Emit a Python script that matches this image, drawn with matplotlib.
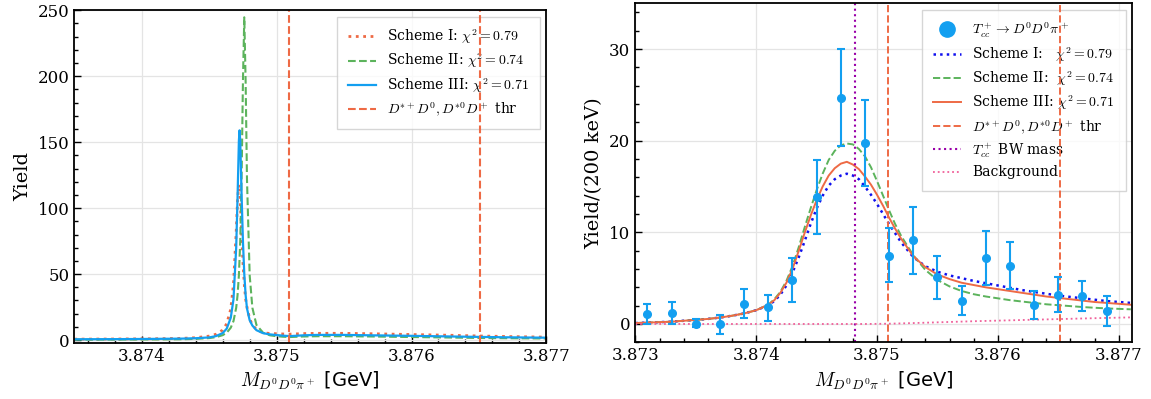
import numpy as np
import matplotlib
matplotlib.use("Agg")
import matplotlib.pyplot as plt
from matplotlib.ticker import MultipleLocator, FormatStrFormatter

plt.rcParams['font.family'] = ['DejaVu Serif']
plt.rcParams['mathtext.fontset'] = 'cm'

# ---------------- left panel: fitted line shapes (unsmeared) ----------------
xI = [3.8735, 3.8738, 3.8741, 3.8743, 3.8744, 3.8745, 3.87455, 3.8746, 3.87463, 3.87466,
      3.87468, 3.8747, 3.87471, 3.87472, 3.87473, 3.87474, 3.87475, 3.87476, 3.87477, 3.87478,
      3.8748, 3.87482, 3.87485, 3.8749, 3.87495, 3.875, 3.87505, 3.8751, 3.87515, 3.8752,
      3.8753, 3.8755, 3.8757, 3.876, 3.8763, 3.8765, 3.8767, 3.877]
yI = [0.7, 0.8, 1.0, 1.3, 1.8, 3.0, 4.4, 7.6, 12.4, 23.6,
      42.5, 82, 106, 118, 106, 82, 59, 42.5, 31, 25,
      16, 11.5, 8.0, 5.5, 5.0, 4.8, 4.6, 4.5, 4.7, 4.9,
      5.1, 5.1, 4.8, 4.2, 3.6, 3.1, 2.7, 2.2]

xII = [3.8735, 3.8738, 3.8741, 3.8743, 3.8744, 3.8745, 3.87455, 3.8746, 3.87463, 3.87466,
       3.87468, 3.8747, 3.87471, 3.87472, 3.87473, 3.87474, 3.87475, 3.87476, 3.87477, 3.87478,
       3.8748, 3.87482, 3.87485, 3.8749, 3.87495, 3.875, 3.87505, 3.8751, 3.87515, 3.8752,
       3.8753, 3.8755, 3.8757, 3.876, 3.8763, 3.8765, 3.8767, 3.877]
yII = [0.3, 0.35, 0.45, 0.6, 0.9, 1.5, 2.2, 3.7, 5.6, 9.4,
       14.4, 24.5, 34, 49, 75, 122, 196, 244.7, 196, 122,
       49, 24.5, 11.5, 5.5, 3.6, 2.9, 2.5, 2.3, 2.5, 2.7,
       2.9, 2.9, 2.7, 2.3, 1.9, 1.6, 1.4, 1.2]

xIII = [3.8735, 3.8738, 3.8741, 3.8743, 3.8744, 3.8745, 3.87455, 3.8746, 3.87463, 3.87466,
        3.87468, 3.8747, 3.87471, 3.87472, 3.874725, 3.87473, 3.87474, 3.87475, 3.87476, 3.87477,
        3.87478, 3.8748, 3.87482, 3.87485, 3.8749, 3.87495, 3.875, 3.87505, 3.8751, 3.87515,
        3.8752, 3.8753, 3.8755, 3.8757, 3.876, 3.8763, 3.8765, 3.8767, 3.877]
yIII = [0.6, 0.7, 0.9, 1.1, 1.4, 2.0, 3.0, 5.3, 8.7, 17,
        31, 70, 108, 151, 159, 151, 110, 75, 50, 34,
        24, 15, 11, 7.5, 5.2, 4.3, 3.8, 3.3, 3.0, 3.3,
        3.6, 3.9, 3.9, 3.6, 3.2, 2.7, 2.4, 2.1, 1.8]

thresholds = [3.87509, 3.87651]
bw_mass = 3.87482

# ---------------- right panel: data and fits ----------------
px = [3.8731, 3.8733, 3.8735, 3.8737, 3.8739, 3.8741, 3.8743, 3.8745, 3.8747, 3.8749,
      3.8751, 3.8753, 3.8755, 3.8757, 3.8759, 3.8761, 3.8763, 3.8765, 3.8767, 3.8769]
py = [1.05, 1.15, 0.05, -0.05, 2.2, 1.8, 4.8, 13.9, 24.7, 19.75,
      7.45, 9.15, 5.1, 2.5, 7.15, 6.35, 2.05, 3.2, 3.05, 1.4]
py_lo = [0.05, 0.0, -0.3, -1.1, 0.6, 0.35, 2.35, 9.85, 19.45, 15.1,
         4.55, 5.5, 2.75, 0.95, 4.2, 3.8, 0.5, 1.35, 1.4, -0.2]
py_hi = [2.15, 2.4, 0.5, 1.0, 3.85, 3.2, 7.25, 17.9, 30.0, 24.4,
         10.5, 12.8, 7.4, 4.1, 10.1, 9.0, 3.55, 5.1, 4.7, 3.0]

rx = [3.8730, 3.8731, 3.8732, 3.8733, 3.8734, 3.8735, 3.8736, 3.8737, 3.8738, 3.8739,
      3.8740, 3.8741, 3.87415, 3.8742, 3.87425, 3.8743, 3.87435, 3.8744, 3.87445, 3.8745,
      3.87455, 3.8746, 3.87465, 3.8747, 3.87475, 3.8748, 3.87485, 3.8749, 3.87495, 3.8750,
      3.87505, 3.8751, 3.87515, 3.8752, 3.8753, 3.8754, 3.8755, 3.8756, 3.8757, 3.8758,
      3.8759, 3.8760, 3.8761, 3.8762, 3.8763, 3.8764, 3.8765, 3.8766, 3.8767, 3.8768,
      3.8769, 3.8770, 3.8771]
rI = [0.1, 0.15, 0.2, 0.25, 0.35, 0.45, 0.55, 0.7, 0.9, 1.15,
      1.5, 2.05, 2.5, 3.2, 4.2, 5.6, 7.2, 9.0, 10.9, 12.6,
      14.0, 15.1, 15.8, 16.2, 16.4, 16.2, 15.8, 15.0, 14.1, 13.1,
      12.0, 10.9, 9.9, 8.9, 7.3, 6.3, 5.7, 5.3, 5.0, 4.7,
      4.45, 4.2, 3.95, 3.7, 3.5, 3.3, 3.1, 2.95, 2.8, 2.65,
      2.5, 2.4, 2.3]
rII = [0.1, 0.15, 0.2, 0.25, 0.35, 0.45, 0.55, 0.7, 0.9, 1.15,
       1.5, 2.1, 2.7, 3.5, 4.7, 6.3, 8.3, 10.5, 12.6, 14.6,
       16.4, 17.9, 18.9, 19.5, 19.7, 19.6, 19.1, 18.3, 17.1, 15.6,
       14.0, 12.4, 10.9, 9.6, 7.5, 5.9, 4.8, 4.1, 3.6, 3.25,
       3.0, 2.8, 2.6, 2.45, 2.3, 2.15, 2.05, 1.95, 1.85, 1.77,
       1.7, 1.65, 1.6]
rIII = [0.1, 0.15, 0.2, 0.25, 0.35, 0.45, 0.55, 0.7, 0.9, 1.15,
        1.5, 2.1, 2.6, 3.4, 4.5, 6.0, 7.9, 9.9, 11.8, 13.5,
        15.0, 16.2, 17.0, 17.5, 17.7, 17.4, 16.9, 16.1, 15.2, 14.1,
        12.9, 11.6, 10.4, 9.3, 7.4, 6.2, 5.4, 4.9, 4.5, 4.25,
        4.0, 3.8, 3.6, 3.4, 3.2, 3.0, 2.85, 2.7, 2.55, 2.4,
        2.3, 2.2, 2.1]

bx = [3.8730, 3.8749, 3.8751, 3.8753, 3.8755, 3.8758, 3.8761, 3.8764, 3.8767, 3.8771]
by = [0.0, 0.0, 0.03, 0.1, 0.18, 0.3, 0.4, 0.5, 0.6, 0.72]

c_orange = "#ee6a45"
c_green = "#5cb35c"
c_blue = "#139ff0"


def style_axes(ax, xmaj, xmin, ymaj, ymin):
    ax.xaxis.set_major_locator(MultipleLocator(xmaj))
    ax.xaxis.set_minor_locator(MultipleLocator(xmin))
    ax.yaxis.set_major_locator(MultipleLocator(ymaj))
    ax.yaxis.set_minor_locator(MultipleLocator(ymin))
    ax.xaxis.set_major_formatter(FormatStrFormatter('%.3f'))
    ax.tick_params(which='both', direction='in', labelsize=12, width=1.0)
    ax.tick_params(which='major', length=5)
    ax.tick_params(which='minor', length=3)
    ax.grid(True, which='major', color='#e4e4e4', linewidth=0.9)
    ax.set_axisbelow(True)
    for sp in ax.spines.values():
        sp.set_linewidth(1.3)
    ax.set_xlabel(r"$M_{D^0D^0\pi^+}$ [GeV]", fontsize=14, fontfamily='DejaVu Sans')


fig = plt.figure(figsize=(11.51, 3.99), dpi=100)
ax1 = fig.add_axes([0.0646, 0.1411, 0.4101, 0.8331])
ax2 = fig.add_axes([0.5520, 0.1421, 0.4315, 0.8496])

# left
ax1.plot(xI, yI, ':', color=c_orange, lw=2, label=r"Scheme I: $\chi^2=0.79$")
ax1.plot(xII, yII, '--', color=c_green, lw=1.5, label=r"Scheme II: $\chi^2=0.74$")
ax1.plot(xIII, yIII, '-', color=c_blue, lw=1.6, label=r"Scheme III: $\chi^2=0.71$")
for i, t in enumerate(thresholds):
    ax1.axvline(t, color=c_orange, ls='--', lw=1.5,
                label=r"$D^{*+}D^0, D^{*0}D^+$ thr" if i == 0 else None)
ax1.set_xlim(3.8735, 3.877)
ax1.set_ylim(-2, 250)
ax1.set_ylabel("Yield", fontsize=14)
style_axes(ax1, 0.001, 0.0002, 50, 10)
leg1 = ax1.legend(loc='upper right', fontsize=10, fancybox=False, edgecolor='#cccccc',
                  borderaxespad=0.45, borderpad=0.8, labelspacing=0.4)
leg1.set_zorder(1)

# right
ax2.errorbar(px, py, yerr=[np.array(py) - np.array(py_lo), np.array(py_hi) - np.array(py)],
             fmt='none', ecolor=c_blue, elinewidth=1.5, capsize=3, capthick=1.5, zorder=3)
ax2.plot(px, py, 'o', color=c_blue, ms=5.5, zorder=3,
         label=r"$T_{cc}^+\to D^0D^0\pi^+$")
ax2.plot(rx, rI, ':', color='#1010ee', lw=1.8, label=r"Scheme I:   $\chi^2=0.79$")
ax2.plot(rx, rII, '--', color=c_green, lw=1.4, label=r"Scheme II:  $\chi^2=0.74$")
ax2.plot(rx, rIII, '-', color=c_orange, lw=1.4, label=r"Scheme III: $\chi^2=0.71$")
for i, t in enumerate(thresholds):
    ax2.axvline(t, color=c_orange, ls='--', lw=1.4,
                label=r"$D^{*+}D^0, D^{*0}D^+$ thr" if i == 0 else None)
ax2.axvline(bw_mass, color='#9900a8', ls=':', lw=1.5, label=r"$T_{cc}^+$ BW mass")
ax2.plot(bx, by, ':', color='#f0609a', lw=1.3, label="Background")
ax2.set_xlim(3.873, 3.87711)
ax2.set_ylim(-2, 35)
ax2.set_ylabel("Yield/(200 keV)", fontsize=14)
style_axes(ax2, 0.001, 0.0002, 10, 2)
leg2 = ax2.legend(loc='upper right', fontsize=10, fancybox=False, edgecolor='#cccccc',
                  borderaxespad=0.45, borderpad=0.8, labelspacing=0.4, markerscale=2)
leg2.set_zorder(1)

fig.savefig("out.png", dpi=100)
